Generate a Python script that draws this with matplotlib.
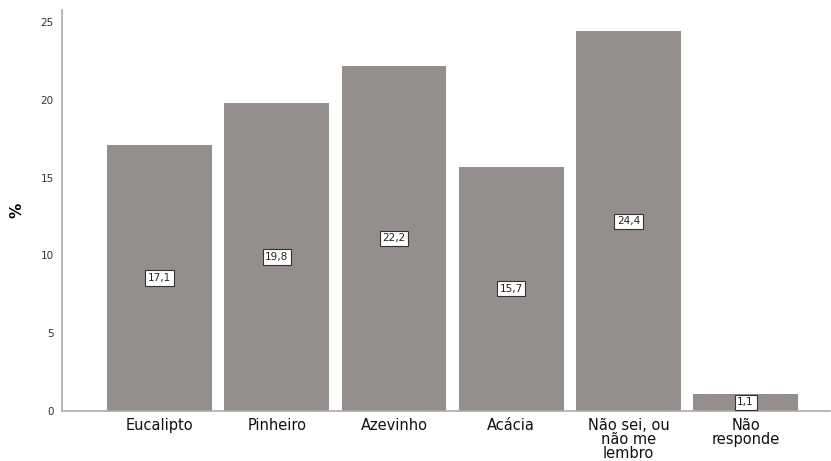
import matplotlib
matplotlib.use("Agg")
import matplotlib.pyplot as plt

categories = ["Eucalipto", "Pinheiro", "Azevinho", "Acácia", "Não sei, ou\nnão me\nlembro", "Não\nresponde"]
values = [17.1, 19.8, 22.2, 15.7, 24.4, 1.1]
value_labels = ["17,1", "19,8", "22,2", "15,7", "24,4", "1,1"]
yticks = [0, 5, 10, 15, 20, 25]

plt.rcParams['font.family'] = ['DejaVu Sans']
fig = plt.figure(figsize=(8.31, 4.61), dpi=100)
ax = fig.add_axes([62/831, 1-411/461, (830-62)/831, (411-10)/461])

x = list(range(len(categories)))
bars = ax.bar(x, values, width=0.895, color="#948f8d", edgecolor="none")
for xi, v, lab in zip(x, values, value_labels):
    ax.text(xi, v/2, lab, ha="center", va="center", fontsize=7.5, color="#222222",
            bbox=dict(boxstyle="square,pad=0.25", fc="white", ec="#333333", lw=0.8))

ax.set_xlim(-0.832, 5.72)
ax.set_ylim(0, 25.77)
ax.set_yticks(yticks)
ax.set_yticklabels([str(t) for t in yticks], fontsize=7.5, color="#333333")
ax.set_xticks(x)
ax.set_xticklabels(categories, fontsize=10.5, color="#111111", linespacing=0.9, va="top")
ax.tick_params(axis="x", length=0, pad=5)
ax.tick_params(axis="y", length=0, pad=6)
ax.set_ylabel("%", fontsize=11, fontweight="bold")
ax.yaxis.set_label_coords(-37/768, 0.5)
for s in ["top", "right"]:
    ax.spines[s].set_visible(False)
for s in ["left", "bottom"]:
    ax.spines[s].set_color("#aaaaaa")
    ax.spines[s].set_linewidth(1.2)

fig.savefig("out.png", dpi=100)
